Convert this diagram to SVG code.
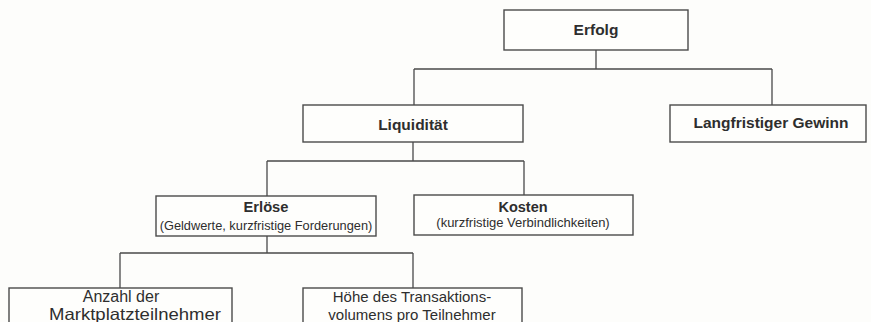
<svg xmlns="http://www.w3.org/2000/svg" width="871" height="322" viewBox="0 0 871 322">
<style>
.box{fill:#fefefc;stroke:#4a4a4a;stroke-width:1.4}
.ln{stroke:#4a4a4a;stroke-width:1.3;fill:none}
.b{font-family:"Liberation Sans",Arial,sans-serif;font-weight:bold;fill:#2e2e2e;text-anchor:middle}
.r{font-family:"Liberation Sans",Arial,sans-serif;fill:#2e2e2e;text-anchor:middle}
</style>
<rect x="0" y="0" width="871" height="322" fill="#fdfdfb"/>
<g id="connectors">
<path class="ln" d="M596 50V69M414 69H772M414 69V105M772 69V105"/>
<path class="ln" d="M413 142V161M267 161H524M267 161V196M524 161V195"/>
<path class="ln" d="M267 236V253M120 253H413M120 253V288M413 253V288"/>
</g>
<g id="erfolg">
<rect class="box" x="504" y="10" width="184" height="40"/>
<text class="b" x="596" y="35" font-size="15.5">Erfolg</text>
</g>
<g id="liquiditaet">
<rect class="box" x="303" y="105" width="220" height="37"/>
<text class="b" x="413" y="130" font-size="15.5">Liquidität</text>
</g>
<g id="gewinn">
<rect class="box" x="670" y="105" width="196" height="37"/>
<text class="b" x="771" y="128" font-size="15.5">Langfristiger Gewinn</text>
</g>
<g id="erloese">
<rect class="box" x="156" y="196" width="220" height="40"/>
<text class="b" x="266" y="212" font-size="14.7">Erlöse</text>
<text class="r" x="266" y="230" font-size="12.8">(Geldwerte, kurzfristige Forderungen)</text>
</g>
<g id="kosten">
<rect class="box" x="414" y="195" width="219" height="40"/>
<text class="b" x="523" y="212" font-size="14.5">Kosten</text>
<text class="r" x="523" y="227" font-size="13">(kurzfristige Verbindlichkeiten)</text>
</g>
<g id="anzahl">
<rect class="box" x="9" y="288" width="223" height="45"/>
<text class="r" x="121" y="302" font-size="16">Anzahl der</text>
<text class="r" x="135" y="320" font-size="16.5" textLength="172" lengthAdjust="spacingAndGlyphs">Marktplatzteilnehmer</text>
</g>
<g id="hoehe">
<rect class="box" x="303" y="288" width="219" height="45"/>
<text class="r" x="412" y="302" font-size="15">Höhe des Transaktions-</text>
<text class="r" x="412" y="320" font-size="15">volumens pro Teilnehmer</text>
</g>
</svg>
